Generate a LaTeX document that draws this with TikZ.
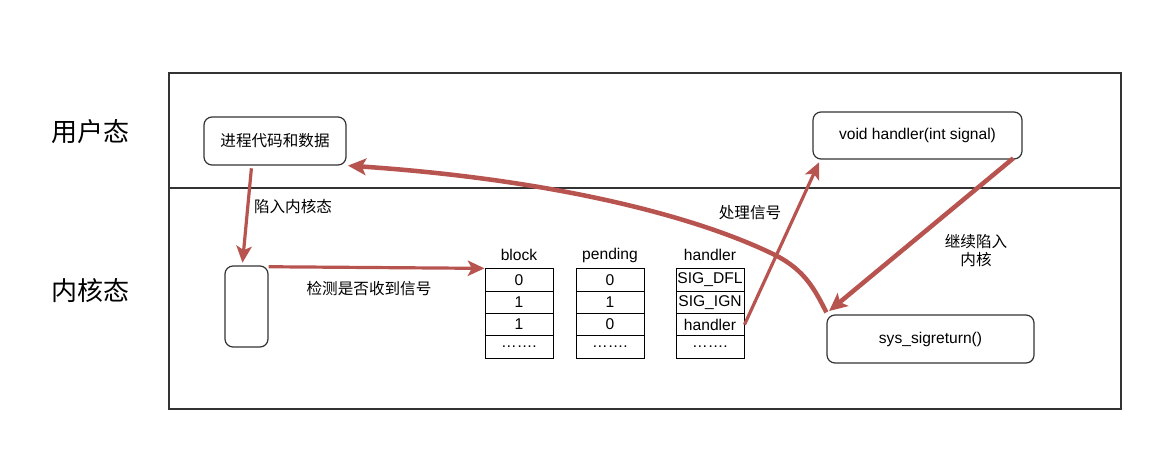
\documentclass[tikz,border=0pt]{standalone}
\usepackage{fontspec}
\setmainfont{Liberation Sans}
\newfontfamily\cjk{Noto Sans CJK SC}
\usetikzlibrary{arrows.meta}
\definecolor{arrred}{HTML}{B85450}
\definecolor{boxline}{HTML}{333333}
\tikzset{
  rbox/.style={draw=boxline, line width=0.9pt, rounded corners=6pt, inner sep=0pt, font=\fontsize{11.7}{14}\selectfont},
  cell/.style={draw=black, line width=0.75pt, minimum width=51pt, minimum height=16.7pt, inner sep=0pt, font=\fontsize{11.7}{14}\selectfont},
  lbl/.style={inner sep=0pt, font=\cjk\fontsize{11.7}{14}\selectfont},
  ttl/.style={inner sep=0pt, font=\fontsize{11.7}{14}\selectfont},
  big/.style={inner sep=0pt, font=\cjk\fontsize{19.5}{22}\selectfont},
  arr/.style={draw=arrred, line width=2.4pt, -{Stealth[length=12.5pt, width=11.5pt, inset=3pt]}},
  arrb/.style={draw=arrred, line width=3.4pt, -{Stealth[length=13.5pt, width=12.5pt, inset=3pt]}},
}
\begin{document}
\begin{tikzpicture}[x=0.75pt, y=-0.75pt]
\useasboundingbox (0,0) rectangle (1174,465);
% frame
\draw[draw=boxline, line width=0.9pt] (169,73) rectangle (1121,409);
\draw[draw=boxline, line width=0.9pt] (169,188) -- (1121,188);
\node[big] (user) at (90,132) {用户态};
\node[big] (kern) at (90,291) {内核态};
% boxes
\node[rbox, minimum width=106.5pt, minimum height=36pt, font=\cjk\fontsize{11.7}{14}\selectfont] (proc) at (275,141) {进程代码和数据};
\node[rbox, minimum width=32.25pt, minimum height=60.75pt] (small) at (246.5,306.5) {};
\node[rbox, minimum width=156.75pt, minimum height=35.25pt] (void) at (917.5,135.5) {void handler(int signal)};
\node[rbox, minimum width=155.25pt, minimum height=36pt] (sys) at (930.5,339) {sys\_sigreturn()};
% tables
\node[ttl] (tb) at (519,255) {block};
\node[ttl] (tp) at (610,255) {pending};
\node[ttl] (th) at (710,255) {handler};
\node[cell] (b0) at (519,280) {0};
\node[cell] (b1) at (519,302.3) {1};
\node[cell] (b2) at (519,324.6) {1};
\node[cell] (b3) at (519,346.9) {…….};
\node[cell] (p0) at (610,280) {0};
\node[cell] (p1) at (610,302.3) {1};
\node[cell] (p2) at (610,324.6) {0};
\node[cell] (p3) at (610,346.9) {…….};
\node[cell] (h0) at (710,280) {SIG\_DFL};
\node[cell] (h1) at (710,302.3) {SIG\_IGN};
\node[cell] (h2) at (710,324.6) {handler};
\node[cell] (h3) at (710,346.9) {…….};
% labels
\node[lbl] (l1) at (293,207) {陷入内核态};
\node[lbl] (l2) at (369,289) {检测是否收到信号};
\node[lbl] (l3) at (750,213) {处理信号};
\node[lbl, align=center, font=\cjk\fontsize{11.7}{13.5}\selectfont] (l4) at (976,251) {继续陷入\\内核};
% connectors
\coordinate (pstart) at ([xshift=36pt]proc.south west);
\coordinate (sstart) at ([xshift=-3pt, yshift=2pt]small.north);
\draw[arr] ([yshift=-2pt]pstart) -- (sstart);
\draw[arr] ([yshift=-1pt]small.north east) -- (b0.north west);
\draw[arr] (h2.east) -- ([xshift=5pt,yshift=-2pt]void.south west);
\coordinate (vstart) at ([xshift=-7pt,yshift=1pt]void.south east);
\coordinate (send) at ([xshift=2pt,yshift=2.5pt]sys.north west);
\draw[arrb] (vstart) -- (send);
\coordinate (cstart) at ([xshift=0pt,yshift=1.5pt]sys.north west);
\coordinate (cmid) at (775,255);
\coordinate (pend) at ([xshift=1pt]proc.south east);
\draw[arrb] (cstart) .. controls (815,290) and (805,270) .. (cmid)
  .. controls (700,218) and (560,180) .. (pend);
\end{tikzpicture}
\end{document}
